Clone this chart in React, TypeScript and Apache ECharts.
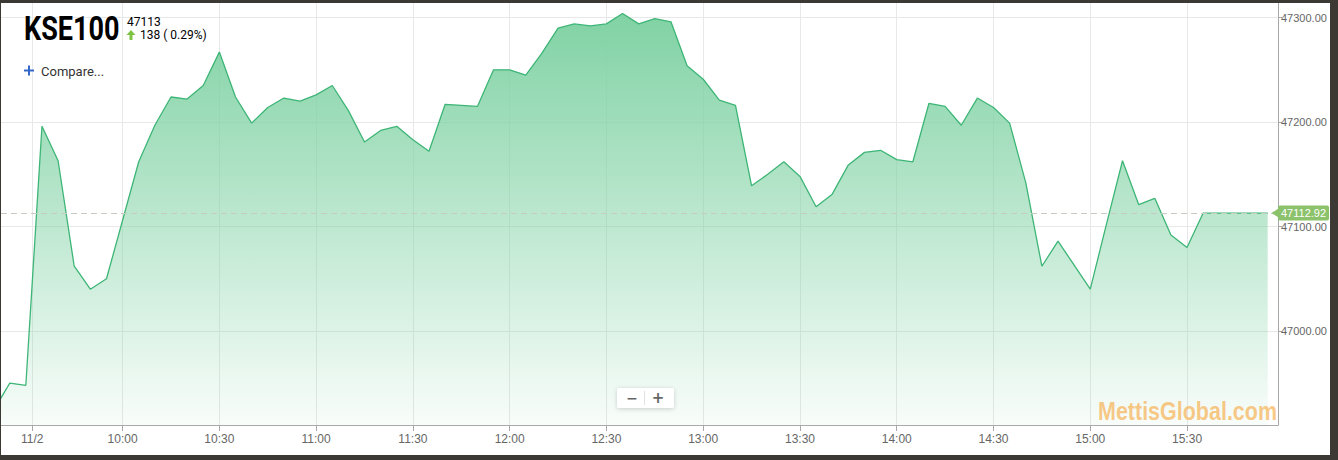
import React, { useEffect, useRef } from 'react';
import * as echarts from 'echarts';

// ---- data ----
const times = [
  '09:20', '09:25', '09:30', '09:35', '09:40', '09:45', '09:50', '09:55',
  '10:00', '10:05', '10:10', '10:15', '10:20', '10:25', '10:30', '10:35', '10:40', '10:45', '10:50', '10:55',
  '11:00', '11:05', '11:10', '11:15', '11:20', '11:25', '11:30', '11:35', '11:40', '11:45', '11:50', '11:55',
  '12:00', '12:05', '12:10', '12:15', '12:20', '12:25', '12:30', '12:35', '12:40', '12:45', '12:50', '12:55',
  '13:00', '13:05', '13:10', '13:15', '13:20', '13:25', '13:30', '13:35', '13:40', '13:45', '13:50', '13:55',
  '14:00', '14:05', '14:10', '14:15', '14:20', '14:25', '14:30', '14:35', '14:40', '14:45', '14:50', '14:55',
  '15:00', '15:05', '15:10', '15:15', '15:20', '15:25', '15:30', '15:35', '15:40', '15:45', '15:50', '15:55',
];
const closes = [
  46924, 46950, 46948, 47196, 47163, 47062, 47040, 47050,
  47106, 47162, 47197, 47224, 47222, 47235, 47267, 47224, 47199, 47214, 47223, 47220,
  47226, 47235, 47211, 47181, 47192, 47196, 47183, 47172, 47217, 47216, 47215, 47250,
  47250, 47245, 47266, 47290, 47294, 47292, 47294, 47304, 47294, 47299, 47296, 47254,
  47241, 47221, 47216, 47139, 47150, 47162, 47148, 47119, 47131, 47159, 47171, 47173,
  47164, 47162, 47218, 47215, 47197, 47223, 47214, 47199, 47142, 47062, 47086, 47063,
  47040, 47102, 47163, 47121, 47127, 47092, 47080, 47112.92, 47112.92, 47112.92, 47112.92, 47112.92,
];
const tickTimes = ['09:32', '10:00', '10:30', '11:00', '11:30', '12:00', '12:30', '13:00', '13:30', '14:00', '14:30', '15:00', '15:30'];
const tickLabels = ['11/2', '10:00', '10:30', '11:00', '11:30', '12:00', '12:30', '13:00', '13:30', '14:00', '14:30', '15:00', '15:30'];
const yTicks = [47000, 47100, 47200, 47300];
const lastPrice = 47112.92;
const symbolName = 'KSE100';
const lastRounded = '47113';
const changeText = '138 ( 0.29%)';
const compareText = 'Compare...';
const watermark = 'MettisGlobal.com';

const toMin = (t: string) => {
  const [h, m] = t.split(':').map(Number);
  return h * 60 + m;
};
const tickMins = tickTimes.map(toMin);
const X_MIN = 562.3;
const X_MAX = 958.2;

export default function App() {
  const ref = useRef<HTMLDivElement>(null);
  useEffect(() => {
    if (!ref.current) return;
    const chart = echarts.init(ref.current, undefined, { renderer: 'svg' });
    const axisFont = 'Liberation Sans, Arial, Helvetica, sans-serif';
    const green = '#8bc26b';
    chart.setOption({
      animation: false,
      grid: { left: 0, right: 52, top: 0, bottom: 30, containLabel: false },
      xAxis: {
        type: 'value',
        min: X_MIN,
        max: X_MAX,
        axisLine: { show: true, lineStyle: { color: '#a8a8a8', width: 1 } },
        axisTick: { show: true, length: 6, customValues: tickMins, lineStyle: { color: '#a8a8a8' } },
        axisLabel: {
          customValues: tickMins,
          color: '#666',
          fontSize: 12,
          fontFamily: axisFont,
          margin: 8,
          formatter: (v: number) => {
            const i = tickMins.indexOf(Math.round(v));
            return i >= 0 ? tickLabels[i] : '';
          },
        },
        splitLine: { show: true, lineStyle: { color: '#e8e8e8', width: 1 } },
      },
      yAxis: {
        type: 'value',
        position: 'right',
        min: 46910,
        max: 47314,
        axisLine: { show: true, lineStyle: { color: '#a8a8a8', width: 1 } },
        axisTick: { show: true, length: 4, customValues: yTicks, lineStyle: { color: '#a8a8a8' } },
        axisLabel: {
          customValues: yTicks,
          color: '#666',
          fontSize: 11,
          fontFamily: axisFont,
          margin: 3,
          formatter: (v: number) => v.toFixed(2),
        },
        splitLine: { show: true, lineStyle: { color: '#e8e8e8', width: 1 } },
      },
      series: [
        {
          type: 'line',
          data: times.map((t, i) => [toMin(t), closes[i]]),
          symbol: 'none',
          clip: true,
          lineStyle: { color: '#3db576', width: 1.3 },
          areaStyle: {
            opacity: 1,
            color: new echarts.graphic.LinearGradient(0, 0, 0, 1, [
              { offset: 0, color: 'rgba(128,210,164,1)' },
              { offset: 1, color: 'rgba(128,210,164,0.05)' },
            ]),
          },
          markLine: {
            silent: true,
            symbol: ['none', 'none'],
            data: [{ yAxis: lastPrice }],
            lineStyle: { type: [6, 4], color: '#c6ccbf', width: 1 },
            label: {
              show: true,
              position: 'end',
              distance: 0,
              formatter: () => lastPrice.toFixed(2),
              backgroundColor: green,
              color: '#fff',
              fontSize: 11,
              fontFamily: axisFont,
              padding: [2, 3, 2, 3],
              borderRadius: 2,
            },
          },
          markPoint: {
            silent: true,
            symbol: 'triangle',
            symbolSize: [9, 7],
            symbolRotate: 90,
            symbolOffset: [-3, 0],
            itemStyle: { color: green },
            label: { show: false },
            data: [{ coord: [X_MAX, lastPrice] }],
          },
        },
      ],
      graphic: {
        elements: [
          {
            type: 'group',
            z: 100,
            children: [
              {
                type: 'text',
                x: 23,
                y: 26,
                scaleX: 0.82,
                z: 100,
                style: { x: 0, y: 0, text: symbolName, fontFamily: 'Roboto', fontWeight: 'bold', fontSize: 33, fill: '#000', verticalAlign: 'middle' },
              },
              {
                type: 'text',
                x: 126,
                y: 19,
                z: 100,
                style: { text: lastRounded, fontFamily: 'Roboto', fontSize: 12, fill: '#000', verticalAlign: 'middle' },
              },
              { type: 'polygon', z: 100, shape: { points: [[130, 27], [125.5, 32], [134.5, 32]] }, style: { fill: '#7ec242' } },
              { type: 'rect', z: 100, shape: { x: 128.5, y: 31.5, width: 3, height: 5.5 }, style: { fill: '#7ec242' } },
              {
                type: 'text',
                x: 139,
                y: 32,
                z: 100,
                style: { text: changeText, fontFamily: 'Roboto', fontSize: 12, fill: '#000', verticalAlign: 'middle' },
              },
              { type: 'rect', z: 100, shape: { x: 23, y: 66.5, width: 10, height: 2 }, style: { fill: '#3368c8' } },
              { type: 'rect', z: 100, shape: { x: 27, y: 62.5, width: 2, height: 10 }, style: { fill: '#3368c8' } },
              {
                type: 'text',
                x: 40,
                y: 68,
                z: 100,
                style: { text: compareText, fontFamily: 'Roboto', fontSize: 13, fill: '#333', verticalAlign: 'middle' },
              },
              {
                type: 'rect',
                z: 100,
                shape: { x: 616, y: 385, width: 57, height: 20, r: 2 },
                style: { fill: '#fff', shadowBlur: 4, shadowColor: 'rgba(0,0,0,0.18)', shadowOffsetY: 1 },
              },
              { type: 'line', z: 101, shape: { x1: 643.5, y1: 388, x2: 643.5, y2: 402 }, style: { stroke: '#e2e2e2', lineWidth: 1 } },
              {
                type: 'text',
                x: 631,
                y: 395,
                z: 101,
                style: { text: '−', fontFamily: 'DejaVu Sans', fontWeight: 'bold', fontSize: 14, fill: '#666', align: 'center', verticalAlign: 'middle' },
              },
              {
                type: 'text',
                x: 657,
                y: 395,
                z: 101,
                style: { text: '+', fontFamily: 'DejaVu Sans', fontWeight: 'bold', fontSize: 15, fill: '#666', align: 'center', verticalAlign: 'middle' },
              },
              {
                type: 'text',
                x: 1097,
                y: 408,
                scaleX: 0.86,
                z: 100,
                style: { x: 0, y: 0, text: watermark, fontFamily: 'Liberation Sans', fontWeight: 'bold', fontSize: 25, fill: 'rgba(247,180,88,0.72)', verticalAlign: 'middle' },
              },
            ],
          },
        ],
      },
    });
    return () => chart.dispose();
  }, []);

  return (
    <div style={{ position: 'fixed', left: 0, top: 0, width: 1338, height: 460, background: '#3c3834' }}>
      <div
        ref={ref}
        style={{ position: 'absolute', left: 1, top: 3, width: 1329, height: 452, background: '#fff' }}
      />
    </div>
  );
}
